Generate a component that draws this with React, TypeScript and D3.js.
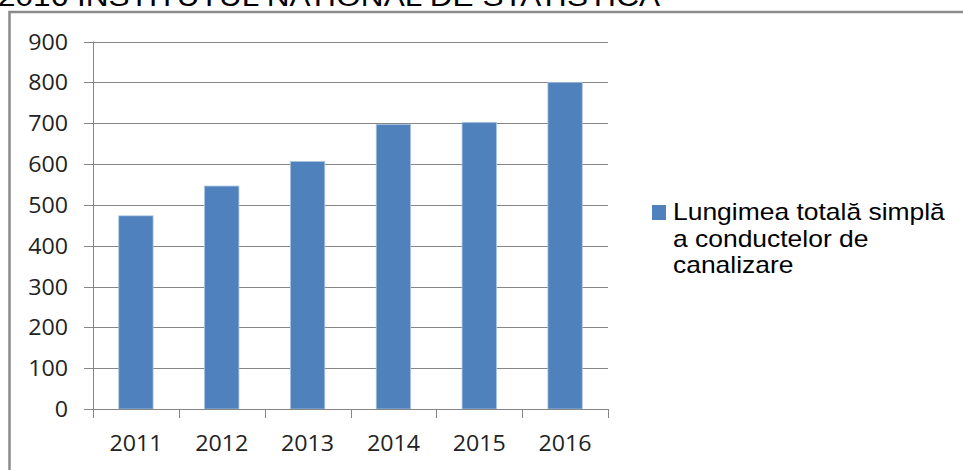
import React from "react";
import * as d3 from "d3";

const years = ["2011", "2012", "2013", "2014", "2015", "2016"];
const lengths = [473, 546, 606, 697, 702, 800];
const yTicks = [0, 100, 200, 300, 400, 500, 600, 700, 800, 900];
const titleText = "2016 INSTITUTUL NATIONAL DE STATISTICA";
const legendLines = ["Lungimea totală simplă", "a conductelor de", "canalizare"];

export default function App() {
  const width = 963;
  const height = 470;
  const plot = { left: 93, right: 608, top: 41.5, bottom: 409 };

  const x = d3
    .scaleBand<string>()
    .domain(years)
    .range([plot.left, plot.right])
    .paddingInner(0.6)
    .paddingOuter(0.3);

  const y = d3.scaleLinear().domain([0, 900]).range([plot.bottom, plot.top]);

  const step = (plot.right - plot.left) / years.length;
  const boundaries = d3.range(years.length + 1).map((i) => plot.left + i * step);

  const axisColor = "#868686";
  const labelFont = "'Open Sans', sans-serif";

  return (
    <svg
      width={width}
      height={height}
      style={{ position: "absolute", left: 0, top: 0, display: "block", background: "#fff" }}
    >
      {/* cut-off heading above the chart */}
      <text
        x={-2}
        y={6}
        fontFamily="'Liberation Sans', Arial, sans-serif"
        fontSize={27}
        fill="#000"
        textLength={662}
        lengthAdjust="spacingAndGlyphs"
      >
        {titleText}
      </text>

      {/* chart frame */}
      <path d={`M9.5,${height} V12 H${width}`} fill="none" stroke="#8a8a8a" strokeWidth={2.5} />

      {/* gridlines */}
      {yTicks
        .filter((t) => t > 0)
        .map((t) => (
          <line
            key={t}
            x1={plot.left}
            x2={plot.right}
            y1={Math.round(y(t)) + 0.5}
            y2={Math.round(y(t)) + 0.5}
            stroke={axisColor}
            strokeWidth={1}
          />
        ))}

      {/* bars */}
      {years.map((yr, i) => (
        <rect
          key={yr}
          x={x(yr)}
          y={y(lengths[i])}
          width={x.bandwidth()}
          height={y(0) - y(lengths[i])}
          fill="#4f81bd"
          stroke="#a9c2e0"
          strokeWidth={0.8}
        />
      ))}

      {/* y axis */}
      <line x1={plot.left + 0.5} x2={plot.left + 0.5} y1={plot.top} y2={plot.bottom + 9} stroke={axisColor} />
      {yTicks.map((t) => (
        <g key={t}>
          <line
            x1={plot.left - 9}
            x2={plot.left}
            y1={Math.round(y(t)) + 0.5}
            y2={Math.round(y(t)) + 0.5}
            stroke={axisColor}
          />
          <text
            x={0}
            y={0}
            transform={`translate(68, ${y(t) + 8}) scale(1.08, 1)`}
            textAnchor="end"
            fontFamily={labelFont}
            fontSize={21.5}
            fill="#222"
          >
            {t}
          </text>
        </g>
      ))}

      {/* x axis */}
      <line
        x1={plot.left}
        x2={plot.right}
        y1={Math.round(plot.bottom) + 0.5}
        y2={Math.round(plot.bottom) + 0.5}
        stroke={axisColor}
      />
      {boundaries.map((b, i) => (
        <line
          key={i}
          x1={Math.round(b) + 0.5}
          x2={Math.round(b) + 0.5}
          y1={plot.bottom}
          y2={plot.bottom + 9}
          stroke={axisColor}
        />
      ))}
      {years.map((yr) => (
        <text
          key={yr}
          x={0}
          y={0}
          transform={`translate(${(x(yr) ?? 0) + x.bandwidth() / 2}, 451) scale(1.08, 1)`}
          textAnchor="middle"
          fontFamily={labelFont}
          fontSize={21.5}
          fill="#222"
        >
          {yr}
        </text>
      ))}

      {/* legend */}
      <rect x={652} y={205} width={14} height={15} fill="#4f81bd" />
      {legendLines.map((line, i) => (
        <text
          key={i}
          x={0}
          y={0}
          transform={`translate(673, ${220 + i * 26.5}) scale(1.15, 1)`}
          fontFamily="'Liberation Sans', Arial, sans-serif"
          fontSize={23}
          fill="#000"
        >
          {line}
        </text>
      ))}
    </svg>
  );
}
